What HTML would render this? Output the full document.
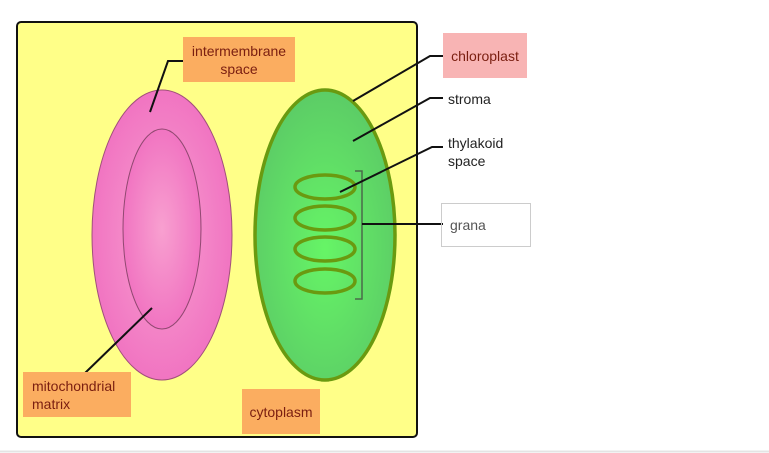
<!DOCTYPE html>
<html><head><style>
body{margin:0;width:769px;height:453px;background:#fff;overflow:hidden;font-family:"Liberation Sans",sans-serif}
.l{position:absolute;font-size:14px;color:#7a1e10;text-align:center;line-height:18px;box-sizing:border-box}
</style></head><body>
<svg width="769" height="453" style="position:absolute;left:0;top:0">
<defs>
<radialGradient id="p" cx="50%" cy="50%" r="55%"><stop offset="0" stop-color="#f8a0d0"/><stop offset="1" stop-color="#f070c0"/></radialGradient>
<radialGradient id="g" cx="50%" cy="55%" r="55%"><stop offset="0" stop-color="#66f566"/><stop offset="1" stop-color="#5ccc66"/></radialGradient>
</defs>
<rect x="17" y="22" width="400" height="415" rx="4" fill="#ffff88" stroke="#111" stroke-width="2"/>
<ellipse cx="162" cy="235" rx="70" ry="145" fill="url(#p)" stroke="#a0507a" stroke-width="1"/>
<ellipse cx="162" cy="229" rx="39" ry="100" fill="url(#p)" stroke="#904870" stroke-width="1"/>
<ellipse cx="325" cy="235" rx="70" ry="145" fill="url(#g)" stroke="#6a9a10" stroke-width="3.5"/>
<g fill="none" stroke="#6a9a10" stroke-width="3.5">
<ellipse cx="325" cy="187" rx="30" ry="12"/><ellipse cx="325" cy="218" rx="30" ry="12"/>
<ellipse cx="325" cy="249" rx="30" ry="12"/><ellipse cx="325" cy="281" rx="30" ry="12"/>
</g>
<path d="M355 171H362V299H355" fill="none" stroke="#4a6a4a" stroke-width="1.5"/>
<g fill="none" stroke="#111" stroke-width="2">
<path d="M184 61H168L150 112"/>
<path d="M152 308L84 374"/>
<path d="M353 101L430 56H443"/>
<path d="M353 141L430 98H443"/>
<path d="M340 192L432 147H443"/>
<path d="M362 224H443"/>
</g>
<line x1="0" y1="451.5" x2="769" y2="451.5" stroke="#e4e4e4" stroke-width="2"/>
</svg>
<div class="l" style="left:183px;top:37px;width:112px;height:45px;background:#fbad60;padding-top:5px">intermembrane<br>space</div>
<div class="l" style="left:23px;top:372px;width:108px;height:45px;background:#fbad60;padding-top:5px;text-align:left;padding-left:9px">mitochondrial<br>matrix</div>
<div class="l" style="left:242px;top:389px;width:78px;height:45px;background:#fbad60;padding-top:14px">cytoplasm</div>
<div class="l" style="left:443px;top:33px;width:84px;height:45px;background:#f8b4b4;padding-top:14px">chloroplast</div>
<div class="l" style="left:448px;top:90px;color:#222;text-align:left">stroma</div>
<div class="l" style="left:448px;top:134px;color:#222;text-align:left">thylakoid<br>space</div>
<div class="l" style="left:441px;top:203px;width:90px;height:44px;border:1.5px solid #ccc;padding-top:12px;padding-left:8px;text-align:left;color:#555">grana</div>
</body></html>
